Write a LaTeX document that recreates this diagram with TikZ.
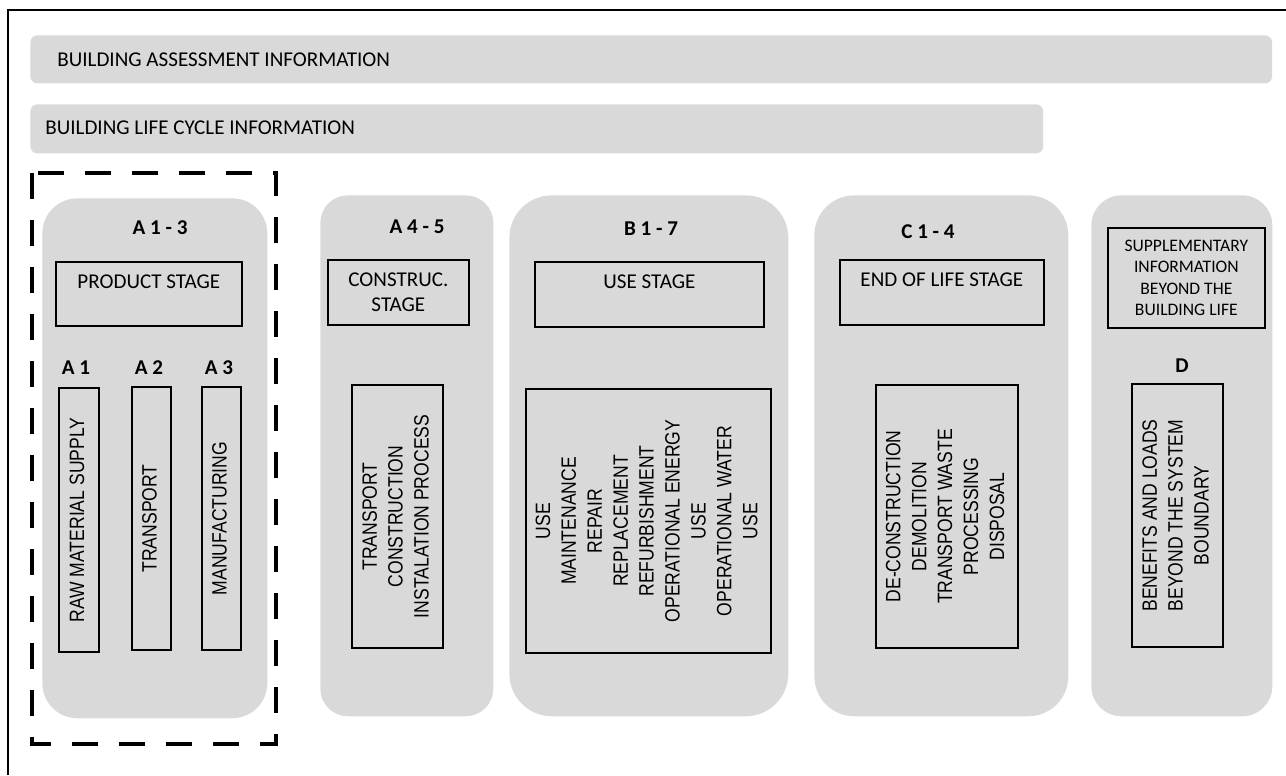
\documentclass[tikz,border=0pt]{standalone}
\usepackage{fontspec}
\setmainfont{Carlito}
\newfontfamily\arialfont{Liberation Sans}
\usepackage{xcolor}
\usepackage{graphicx}
\usepackage{tikz}
\usetikzlibrary{positioning}
\definecolor{panelgray}{HTML}{D9D9D9}
\newcommand{\tallrows}[1]{\scalebox{1}[1.18]{\begin{tabular}{@{}c@{}}#1\end{tabular}}}

\begin{document}
\begin{tikzpicture}[x=0.02cm, y=-0.02cm,
    bar/.style={rectangle, fill=panelgray, rounded corners=0.14cm, anchor=north west, inner sep=0pt},
    bartext/.style={anchor=west, font=\fontsize{12}{14.5}\selectfont, inner sep=0pt},
    column/.style={rectangle, fill=panelgray, anchor=north west, inner sep=0pt},
    stagebox/.style={rectangle, draw, line width=1pt, anchor=north west, inner sep=0pt},
    stagetext/.style={font=\fontsize{12}{14.5}\selectfont, align=center, inner sep=0pt},
    procbox/.style={rectangle, draw, line width=1pt, rotate=90, inner sep=0pt, font=\arialfont\fontsize{10}{12.5}\selectfont},
    code/.style={font=\bfseries\fontsize{12}{14.5}\selectfont, inner sep=0pt},
    frame/.style={line width=1.3pt},
    boundary/.style={line width=2.3pt, dash pattern=on 0.52cm off 0.42cm}
]
\useasboundingbox (0,0) rectangle (1286,775);

% Frame
\draw[frame] (8,775) -- (8,10) -- (1286,10);

% Information bars
\node[bar, minimum width=24.84cm, minimum height=0.96cm] (assess) at (30,35) {};
\node[bartext] (assesstext) at (57,60) {BUILDING ASSESSMENT INFORMATION};
\node[bar, minimum width=20.26cm, minimum height=0.98cm] (lifecycle) at (30,104) {};
\node[bartext] (lifecycletext) at (45,128) {BUILDING LIFE CYCLE INFORMATION};

% Columns
\node[column, rounded corners=0.7cm, minimum width=4.5cm, minimum height=10.4cm] (prodcol) at (42,198) {};
\node[column, rounded corners=0.55cm, minimum width=3.46cm, minimum height=10.42cm] (constrcol) at (320,195) {};
\node[column, rounded corners=0.85cm, minimum width=5.58cm, minimum height=10.42cm] (usecol) at (509,195) {};
\node[column, rounded corners=0.8cm, minimum width=5.08cm, minimum height=10.42cm] (eolcol) at (814,195) {};
\node[column, rounded corners=0.6cm, minimum width=3.62cm, minimum height=10.42cm] (suppcol) at (1091,195) {};

% Module codes
\node[code] (c13) at (160,228) {A 1 - 3};
\node[code] (c45) at (417,227) {A 4 - 5};
\node[code] (c17) at (651,229) {B 1 - 7};
\node[code] (c14) at (928,232) {C 1 - 4};
\node[code] (cd) at (1182,366) {D};
\node[code] (ca1) at (76,368) {A 1};
\node[code] (ca2) at (149,368) {A 2};
\node[code] (ca3) at (219,368) {A 3};

% Stage boxes
\node[stagebox, minimum width=3.72cm, minimum height=1.28cm] (prod) at (55,261) {};
\node[stagetext] at ([yshift=-0.42cm]prod.north) {PRODUCT STAGE};
\node[stagebox, minimum width=2.82cm, minimum height=1.3cm] (constr) at (327,259) {};
\node[stagetext] at (constr.center) {CONSTRUC.\\STAGE};
\node[stagebox, minimum width=4.58cm, minimum height=1.3cm] (use) at (534,261) {};
\node[stagetext] at ([yshift=-0.42cm]use.north) {USE STAGE};
\node[stagebox, minimum width=4.08cm, minimum height=1.3cm] (eol) at (839,259) {};
\node[stagetext] at ([yshift=-0.42cm]eol.north) {END OF LIFE STAGE};
\node[stagebox, minimum width=3.14cm, minimum height=2cm] (supp) at (1107,227) {};
\node[stagetext, font=\fontsize{10}{12.3}\selectfont] at (supp.center) {SUPPLEMENTARY\\INFORMATION\\BEYOND THE\\BUILDING LIFE};

% Processes
\node[procbox, minimum width=5.28cm, minimum height=0.8cm] (a1) at (79,520) {\tallrows{RAW MATERIAL SUPPLY}};
\node[procbox, minimum width=5.26cm, minimum height=0.78cm] (a2) at (151.5,518.5) {\tallrows{TRANSPORT}};
\node[procbox, minimum width=5.26cm, minimum height=0.78cm] (a3) at (221.5,518.5) {\tallrows{MANUFACTURING}};
\node[procbox, minimum width=5.26cm, minimum height=1.82cm] (a45) at (397.5,516.5) {\tallrows{TRANSPORT\\CONSTRUCTION\\INSTALATION PROCESS}};
\node[procbox, minimum width=5.28cm, minimum height=4.9cm] (b17) at (648.5,521) {\tallrows{USE\\MAINTENANCE\\REPAIR\\REPLACEMENT\\REFURBISHMENT\\OPERATIONAL ENERGY\\USE\\OPERATIONAL WATER\\USE}};
\node[procbox, minimum width=5.26cm, minimum height=2.84cm] (c14box) at (947,516.5) {\tallrows{DE-CONSTRUCTION\\DEMOLITION\\TRANSPORT WASTE\\PROCESSING\\DISPOSAL}};
\node[procbox, minimum width=5.26cm, minimum height=1.82cm] (dbox) at (1177.5,515.5) {\tallrows{BENEFITS AND LOADS\\BEYOND THE SYSTEM\\BOUNDARY}};

% System boundary
\draw[boundary] (32,173) rectangle (276,744);

\end{tikzpicture}
\end{document}
